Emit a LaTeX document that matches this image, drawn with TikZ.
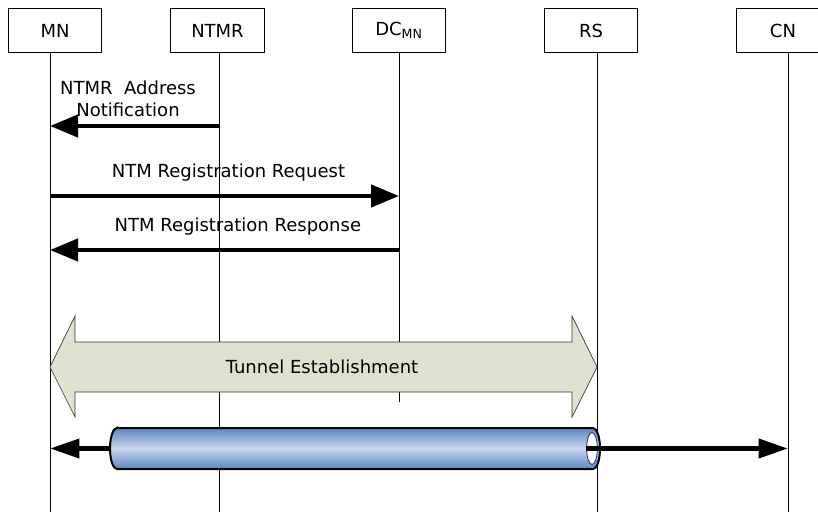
\documentclass[tikz,border=0pt]{standalone}
\usepackage{fontspec}
\setmainfont{DejaVu Sans}
\usepackage{tikz}
\usetikzlibrary{positioning, arrows.meta, shapes.geometric}

\definecolor{tunnelfill}{RGB}{222,226,206}
\definecolor{tubeblue}{RGB}{88,134,192}
\definecolor{tubelight}{RGB}{202,214,234}
\definecolor{tubenavy}{RGB}{40,40,140}

\begin{document}
\begin{tikzpicture}[x=0.75pt, y=-0.75pt,
        every node/.style={font=\fontsize{13.5}{16.5}\selectfont},
        entity/.style={draw, line width=0.6pt, minimum width=70pt, minimum height=33.5pt, inner sep=0pt},
        lifeline/.style={line width=0.6pt},
        msg/.style={line width=3.2pt, -{Triangle[length=21pt, width=16.5pt]}},
        pipe/.style={line width=3.6pt}]
        \useasboundingbox (0,0) rectangle (818,517);
        \node[entity] (MN) at (55,30.5) {MN};
        \node[entity] (NTMR) at (217.5,30.5) {NTMR};
        \node[entity] (DC) at (399,30.5) {DC\textsubscript{MN}};
        \node[entity] (RS) at (591,30.5) {RS};
        \node[entity] (CN) at (783,30.5) {CN};
        %---------------------------
        \coordinate (MNl) at (50,512);
        \coordinate (NTMRl) at (219,512);
        \coordinate (DCl) at (399,402);
        \coordinate (RSl) at (597,512);
        \coordinate (CNl) at (788,512);
        \draw[lifeline] (MN.south -| MNl) -- (MNl);
        \draw[lifeline] (NTMR.south -| NTMRl) -- (NTMRl);
        \draw[lifeline] (DC.south) -- (DCl);
        \draw[lifeline] (RS.south -| RSl) -- (RSl);
        \draw[lifeline] (CN.south -| CNl) -- (CNl);
        %---------------------------
        \coordinate (r1) at (0,126);
        \coordinate (r2) at (0,196);
        \coordinate (r3) at (0,250);
        \path[msg] (NTMRl |- r1) edge (MNl |- r1);
        \node[align=center] (note) at (128,99) {NTMR\ \ Address\\Notification};
        \path[msg] (MNl |- r2) edge node[above=6pt, xshift=3pt] {NTM Registration Request} (DCl |- r2);
        \path[msg] (DCl |- r3) edge node[above=6pt, xshift=10pt] {NTM Registration Response} (MNl |- r3);
        %---------------------------
        \draw[fill=tunnelfill, draw=black!80, line width=0.5pt]
        (50,367) -- (75,316) -- (75,342) -- (572,342) -- (572,316) -- (597,367)
        -- (572,417) -- (572,392) -- (75,392) -- (75,417) -- cycle;
        \node (tunnel) at (322,367) {Tunnel Establishment};
        %--------------------------
        \coordinate (tubeL) at (120,448.5);
        \draw[pipe, {Triangle[length=22pt, width=14pt]}-] (MNl |- tubeL) -- (tubeL);
        \shade[top color=tubeblue, bottom color=tubeblue, middle color=tubelight, draw=black, line width=1.5pt]
        (117,428) -- (593,428) arc[start angle=90, end angle=-90, x radius=5.25pt, y radius=15.4pt]
        -- (117,469) arc[start angle=270, end angle=90, x radius=5.25pt, y radius=15.4pt] -- cycle;
        \node[ellipse, draw=tubenavy, fill=white, line width=0.6pt, minimum width=8pt, minimum height=24pt, inner sep=0pt] (mouth) at (592,448.5) {};
        \draw[pipe, -{Triangle[length=22pt, width=14pt]}] (mouth.west) -- (CNl |- mouth);
\end{tikzpicture}
\end{document}
